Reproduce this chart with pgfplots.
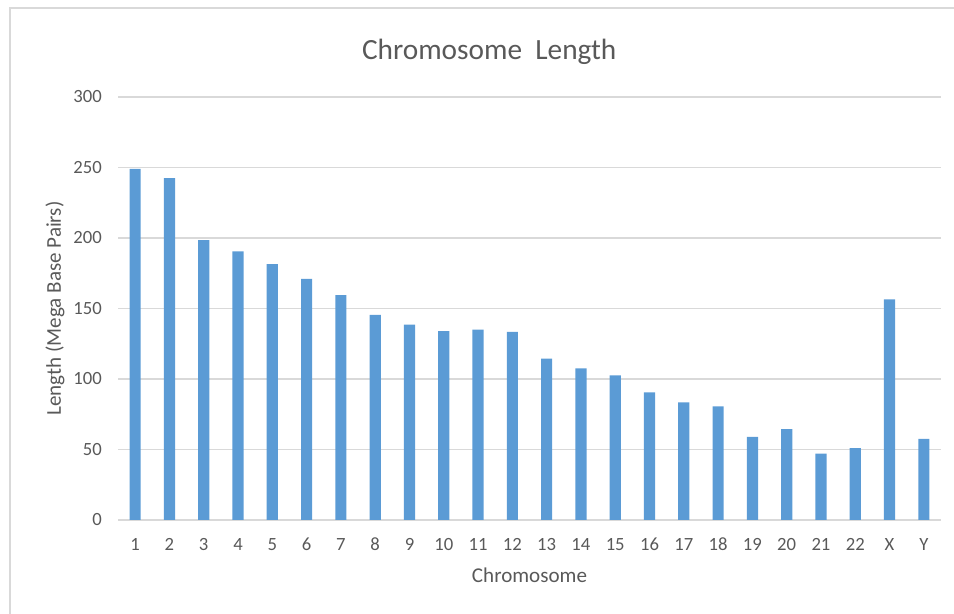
\documentclass[border=0pt]{standalone}
\usepackage{pgfplots}
\pgfplotsset{compat=1.18}
\usepackage{fontspec}
\setmainfont{Carlito}
\definecolor{barblue}{HTML}{5B9BD5}
\definecolor{gridgray}{HTML}{D9D9D9}
\definecolor{textgray}{HTML}{595959}
\begin{document}
\begin{tikzpicture}[x=0.75pt,y=0.75pt]
\useasboundingbox (0,0) rectangle (954,614);
\draw[gridgray, line width=1.5pt] (10,0) -- (10,606) -- (954,606);
\begin{axis}[
  at={(88.5pt,70.5pt)}, anchor=south west,
  scale only axis, width=617.25pt, height=317.25pt,
  xmin=-0.5, xmax=23.5, ymin=0, ymax=300,
  ytick={0,50,...,300},
  xtick={0,1,...,23},
  xticklabels={1,2,3,4,5,6,7,8,9,10,11,12,13,14,15,16,17,18,19,20,21,22,X,Y},
  axis line style={draw=none},
  tick style={draw=none},
  ymajorgrids, grid style={gridgray, line width=0.9pt},
  /pgf/number format/assume math mode=true,
  ticklabel style={font=\fontsize{14}{17}\selectfont, text=textgray, inner sep=0pt},
  xticklabel style={anchor=base, yshift=-23.25pt},
  yticklabel style={anchor=east, xshift=-12pt},
  title={Chromosome\ \ Length},
  title style={at={(0.451,1)}, anchor=base, yshift=21.75pt, font=\fontsize{22}{26}\selectfont, text=textgray, inner sep=0pt},
  xlabel={Chromosome},
  xlabel style={at={(0.5,0)}, anchor=base, yshift=-47.25pt, font=\fontsize{15.8}{19}\selectfont, text=textgray, inner sep=0pt},
  ylabel={Length (Mega Base Pairs)},
  ylabel style={at={(0,0.5)}, anchor=center, yshift=47.25pt, font=\fontsize{15.8}{19}\selectfont, text=textgray, inner sep=0pt},
]
\addplot[ybar, bar width=8.4pt, fill=barblue, draw=none] coordinates {
 (0,249) (1,242.5) (2,198.5) (3,190.5) (4,181.5) (5,171) (6,159.5) (7,145.5)
 (8,138.5) (9,134) (10,135) (11,133.5) (12,114.5) (13,107.5) (14,102.5) (15,90.5)
 (16,83.5) (17,80.5) (18,59) (19,64.5) (20,47) (21,51) (22,156.5) (23,57.5)
};
\end{axis}
\end{tikzpicture}
\end{document}
